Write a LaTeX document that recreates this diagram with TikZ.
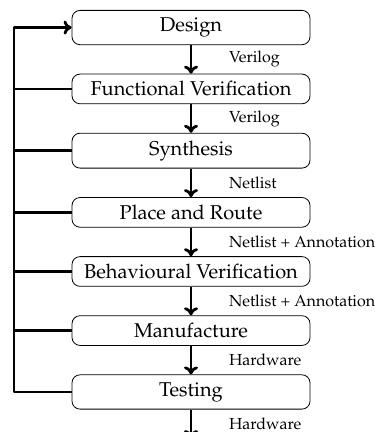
\documentclass[tikz,border=0pt]{standalone}
\usepackage[T1]{fontenc}
\usepackage{mathpazo}
\usetikzlibrary{arrows.meta, positioning}

\begin{document}
\begin{tikzpicture}[line join=round, x=1pt, y=1pt,
    stage/.style={draw, rounded corners=4pt, minimum width=119pt, inner sep=3.7pt},
    flow/.style={-{To[length=4pt, width=7pt]}, line width=1.4pt},
    tie/.style={line width=1.4pt},
    lbl/.style={font=\footnotesize, right=15pt},
    node distance=14.3pt]
  \useasboundingbox (0,0) rectangle (187,-216);

  % --- design flow stages ---
  \node[stage, anchor=north] (design) at (95.5,-5) {Design};
  \node[stage, below=of design] (funcver) {Functional Verification};
  \node[stage, below=of funcver] (synth) {Synthesis};
  \node[stage, below=of synth] (pnr) {Place and Route};
  \node[stage, below=of pnr] (behav) {Behavioural Verification};
  \node[stage, below=of behav] (manuf) {Manufacture};
  \node[stage, below=of manuf] (testing) {Testing};
  \coordinate[below=of testing] (out);

  % --- forward arrows with what is handed on ---
  \draw[flow] (design) -- node[lbl] {Verilog} (funcver);
  \draw[flow] (funcver) -- node[lbl] {Verilog} (synth);
  \draw[flow] (synth) -- node[lbl] {Netlist} (pnr);
  \draw[flow] (pnr) -- node[lbl] {Netlist + Annotation} (behav);
  \draw[flow] (behav) -- node[lbl] {Netlist + Annotation} (manuf);
  \draw[flow] (manuf) -- node[lbl] {Hardware} (testing);
  \draw[flow] (testing) -- node[lbl] {Hardware} (out);

  % --- feedback rail back to design ---
  \coordinate (rail) at (7,0);
  \draw[flow] (testing.west) -- (testing.west -| rail) |- (design.west);
  \foreach \s in {funcver, synth, pnr, behav, manuf}
    \draw[tie] (\s.west) -- (\s.west -| rail);
\end{tikzpicture}
\end{document}
